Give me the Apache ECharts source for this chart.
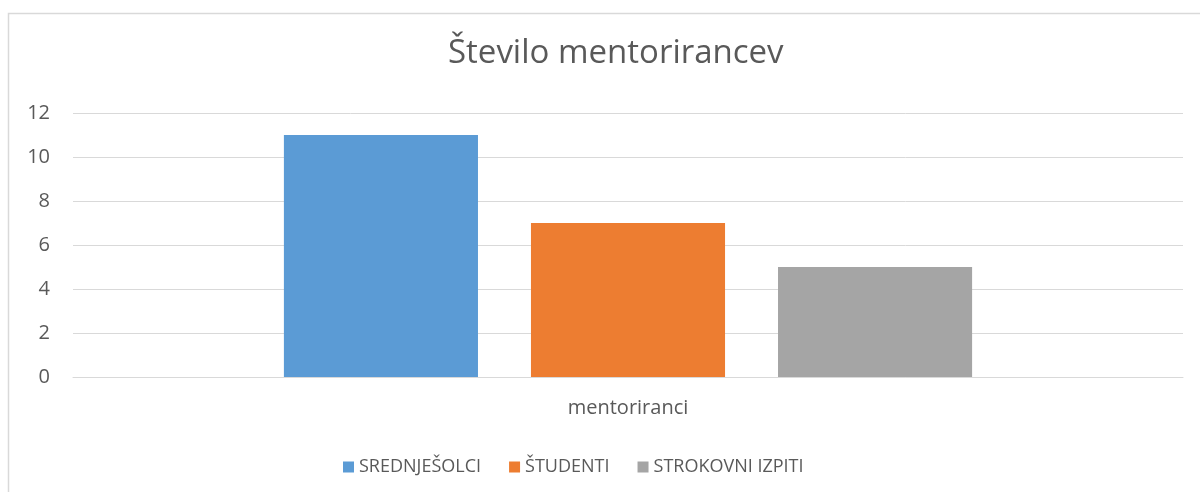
<!DOCTYPE html>
<html>
<head>
<meta charset="utf-8">
<script src="https://cdn.jsdelivr.net/npm/echarts@6/dist/echarts.min.js"></script>
<style>
html,body{margin:0;padding:0;background:#fff;}
#chart{width:1200px;height:492px;}
</style>
</head>
<body>
<div id="chart"></div>
<script>
const titleText = 'Število mentorirancev';
const categories = ['mentoriranci'];
const seriesNames = ['SREDNJEŠOLCI', 'ŠTUDENTI', 'STROKOVNI IZPITI'];
const srednjesolci = [11];
const studenti = [7];
const strokovniIzpiti = [5];
const yTicks = [0, 2, 4, 6, 8, 10, 12];

const colors = ['#5B9BD5', '#ED7D31', '#A5A5A5'];
const font = '"Open Sans", sans-serif';
const seriesData = [srednjesolci, studenti, strokovniIzpiti];

const chart = echarts.init(document.getElementById('chart'), null, {renderer: 'canvas'});
chart.setOption({
  animation: false,
  backgroundColor: '#fff',
  color: colors,
  title: {
    text: titleText,
    left: 448,
    top: 37,
    padding: 0,
    textStyle: {fontFamily: font, fontSize: 33, fontWeight: 'normal', color: '#595959'}
  },
  graphic: [{
    type: 'rect',
    shape: {x: 8.5, y: 13.5, width: 1300, height: 600},
    style: {fill: 'none', stroke: '#D9D9D9', lineWidth: 1.5},
    silent: true
  }],
  legend: {
    bottom: 16,
    left: 343,
    padding: 0,
    itemWidth: 11,
    itemHeight: 11,
    itemGap: 28,
    icon: 'rect',
    textStyle: {fontFamily: font, fontSize: 18, color: '#595959', padding: [0, 0, 0, 0]},
    data: seriesNames
  },
  grid: {left: 73, right: 17, top: 113, bottom: 115, containLabel: false},
  xAxis: {
    type: 'category',
    data: categories,
    axisLine: {show: true, lineStyle: {color: '#D9D9D9', width: 1}},
    axisTick: {show: false},
    axisLabel: {fontFamily: font, fontSize: 20, color: '#595959', margin: 21}
  },
  yAxis: {
    type: 'value',
    min: yTicks[0],
    max: yTicks[yTicks.length - 1],
    interval: 2,
    axisLine: {show: false},
    axisTick: {show: false},
    splitLine: {lineStyle: {color: '#D9D9D9', width: 1}},
    axisLabel: {fontFamily: font, fontSize: 20, color: '#595959', margin: 23}
  },
  series: seriesNames.map((name, i) => ({
    name: name,
    type: 'bar',
    data: seriesData[i],
    barGap: '27.3%',
    barCategoryGap: '38%',
    itemStyle: {color: colors[i]}
  }))
});
</script>
</body>
</html>
